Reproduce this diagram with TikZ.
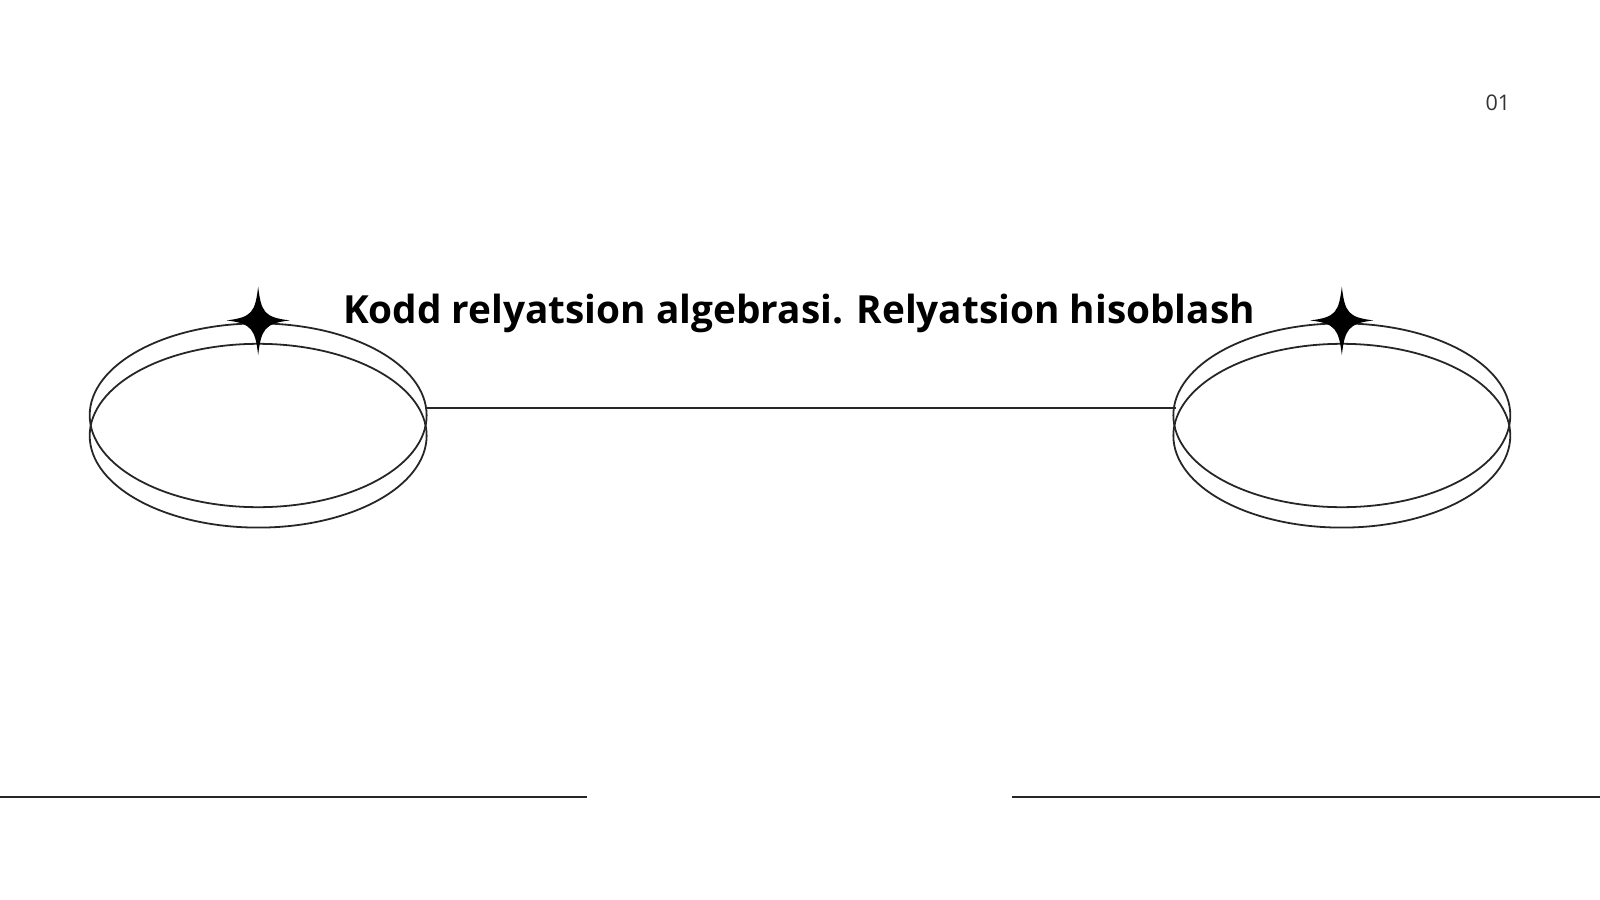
\documentclass[tikz,border=0pt]{standalone}
\usepackage{fontspec}
\setmainfont{Open Sans}
\usetikzlibrary{shapes.geometric}
\tikzset{
  ring/.style={ellipse, draw=black!85, line width=0.5pt, minimum width=3.3cm, minimum height=1.8cm, inner sep=0pt},
  rule/.style={draw=black!85, line width=0.6pt},
}
\newcommand{\sparkle}[1]{%
  \fill[black] (#1) ++(0,-35) .. controls +(3,25) and +(-25,-3) .. ++(31,33)
    .. controls +(-25,3) and +(3,-25) .. ++(-31,34)
    .. controls +(-3,-25) and +(25,3) .. ++(-31,-34)
    .. controls +(25,-3) and +(-3,25) .. ++(31,-33) -- cycle;}
\begin{document}
\begin{tikzpicture}[x=0.01cm,y=-0.01cm]
	\useasboundingbox (0,0) rectangle (1568,882);
	% left pair
	\node[ring] (lt) at (253,407) {};
	\node[ring] (lb) at (253,427) {};
	% right pair
	\node[ring] (rt) at (1315,407) {};
	\node[ring] (rb) at (1315,427) {};
	\coordinate (la) at (417,400);
	\coordinate (ra) at (1152,400);
	\draw[rule] (la) -- (ra);
	\sparkle{253,316}
	\sparkle{1315,316}
	\node[font=\bfseries\fontsize{10.8}{13}\selectfont] (title) at (783,307) {Kodd relyatsion algebrasi. Relyatsion hisoblash};
	\node[font=\fontsize{6}{7}\selectfont, text=black!80] (num) at (1468,101) {01};
	% bottom rules
	\coordinate (b1) at (0,781);
	\coordinate (b2) at (575,781);
	\coordinate (b3) at (992,781);
	\coordinate (b4) at (1568,781);
	\draw[rule] (b1) -- (b2);
	\draw[rule] (b3) -- (b4);
\end{tikzpicture}
\end{document}
